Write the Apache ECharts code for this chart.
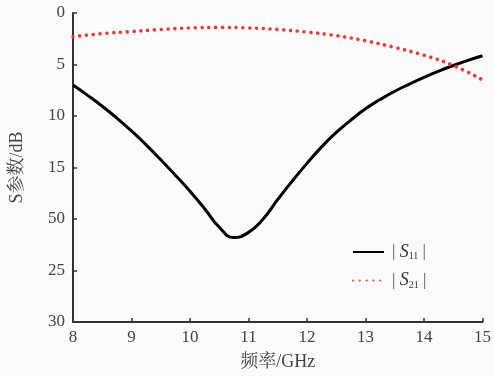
<!DOCTYPE html>
<html><head><meta charset="utf-8">
<script src="https://cdn.jsdelivr.net/npm/echarts@6/dist/echarts.min.js"></script>
<style>html,body{margin:0;padding:0;background:#fbfbfb}#c{width:494px;height:376px}</style>
</head><body><div id="c"></div>
<script>
var freqS11 = [8, 8.25, 8.5, 8.75, 9, 9.25, 9.5, 9.75, 10, 10.25, 10.5, 10.75, 11, 11.25, 11.5, 11.75, 12, 12.25, 12.5, 12.75, 13, 13.25, 13.5, 13.75, 14, 14.25, 14.5, 14.75, 15];
var valS11  = [7.0, 8.0, 9.05, 10.2, 11.45, 12.8, 14.25, 15.75, 17.3, 19.0, 20.8, 21.8, 21.3, 20.0, 18.1, 16.3, 14.6, 13.0, 11.6, 10.4, 9.3, 8.4, 7.6, 6.9, 6.25, 5.65, 5.1, 4.6, 4.15];
var freqS21 = [8, 8.5, 9, 9.5, 10, 10.5, 11, 11.5, 12, 12.5, 13, 13.5, 14, 14.5, 15];
var valS21  = [2.3, 2.0, 1.8, 1.6, 1.45, 1.4, 1.45, 1.6, 1.85, 2.2, 2.7, 3.35, 4.1, 5.1, 6.5];
var yTickLabels = ['0', '5', '10', '15', '50', '25', '30'];
var xTickLabels = ['8', '9', '10', '11', '12', '13', '14', '15'];
var seriesNames = ['S11', 'S21'];
var subs = {S11: '11', S21: '21'};

function pairs(xs, ys) { return xs.map(function (x, i) { return [x, ys[i]]; }); }
var font = '"Liberation Serif", "Noto Serif CJK SC", "Noto Sans CJK SC", serif';
var chart = echarts.init(document.getElementById('c'));
chart.setOption({
  backgroundColor: '#fbfbfb',
  animation: false,
  textStyle: {fontFamily: font},
  grid: {left: 73, right: 7, top: 13, bottom: 54, containLabel: false},
  legend: {
    orient: 'vertical', left: 352, top: 243, padding: 0, itemWidth: 31, itemHeight: 10, itemGap: 10,
    data: seriesNames,
    itemStyle: {opacity: 0},
    formatter: function (n) { return '{t|| }{i|S}{s|' + subs[n] + '}{t| |}'; },
    textStyle: {
      fontFamily: font, color: '#333', padding: [0, 0, 0, 3],
      rich: {
        t: {fontSize: 17, fontFamily: font, color: '#555', height: 20},
        i: {fontSize: 18, fontStyle: 'italic', fontFamily: font, color: '#333', height: 20},
        s: {fontSize: 10, fontFamily: font, color: '#333', verticalAlign: 'bottom', padding: [9, 0, 0, 0], height: 20}
      }
    }
  },
  xAxis: {
    type: 'value', min: 8, max: 15, interval: 1,
    name: '频率/GHz', nameLocation: 'middle', nameGap: 31,
    nameTextStyle: {fontSize: 18, color: '#444', fontFamily: font},
    axisLine: {onZero: false, lineStyle: {color: '#333', width: 2}},
    axisTick: {inside: true, length: 4, lineStyle: {color: '#333', width: 1.5}},
    axisLabel: {fontSize: 17, color: '#444', margin: 7, fontFamily: font,
      formatter: function (v) { return xTickLabels[Math.round(v - 8)]; }},
    splitLine: {show: false}
  },
  yAxis: {
    type: 'value', min: 0, max: 30, interval: 5, inverse: true,
    name: 'S参数/dB', nameLocation: 'middle', nameGap: 47, nameRotate: 90,
    nameTextStyle: {fontSize: 18, color: '#444', fontFamily: font},
    axisLine: {show: true, lineStyle: {color: '#333', width: 2}},
    axisTick: {show: true, inside: true, length: 4, lineStyle: {color: '#333', width: 1.5}},
    axisLabel: {fontSize: 17, color: '#444', margin: 8, fontFamily: font,
      formatter: function (v) { return yTickLabels[Math.round(v / 5)]; }},
    splitLine: {show: false}
  },
  series: [
    {name: seriesNames[0], type: 'line', data: pairs(freqS11, valS11), smooth: 0.5,
      showSymbol: false, symbol: 'none', lineStyle: {color: '#000', width: 3}, itemStyle: {color: '#000'}},
    {name: seriesNames[1], type: 'line', data: pairs(freqS21, valS21), smooth: 0.5,
      showSymbol: false, symbol: 'none',
      lineStyle: {color: '#f03838', width: 3.6, type: [0.01, 6.8], cap: 'round'}, itemStyle: {color: '#f03838'}}
  ]
});
</script></body></html>
